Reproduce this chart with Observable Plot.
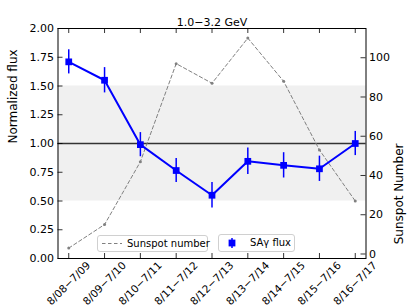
<!DOCTYPE html>
<html><head><meta charset="utf-8">
<script src="https://cdn.jsdelivr.net/npm/d3@7"></script>
<script src="https://cdn.jsdelivr.net/npm/@observablehq/plot@0.6"></script>
<style>
body{margin:0;background:#fff;font-family:"DejaVu Sans",sans-serif;}
#wrap{position:relative;width:411px;height:308px;}
.lg{position:absolute;border:1px solid #d0d0d0;border-radius:3px;background:rgba(255,255,255,0.85);font-size:10px;color:#000;box-sizing:border-box;}
</style></head>
<body><div id="wrap"></div>
<script>
const periods = ["8/08\u22127/09","8/09\u22127/10","8/10\u22127/11","8/11\u22127/12","8/12\u22127/13","8/13\u22127/14","8/14\u22127/15","8/15\u22127/16","8/16\u22127/17"];
const flux = [1.71, 1.55, 0.99, 0.765, 0.55, 0.845, 0.81, 0.78, 1.00];
const fluxErr = [0.105, 0.11, 0.105, 0.105, 0.11, 0.115, 0.11, 0.11, 0.105];
const sunspot = [3, 15, 47, 97, 87, 110, 88, 53, 27];
const fluxTicks = [0, 0.25, 0.5, 0.75, 1.0, 1.25, 1.5, 1.75, 2.0];
const sunTicks = [0, 20, 40, 60, 80, 100];
const band = [0.5, 1.5];
const refLevel = [1.0];
const xDom = [-0.3, 8.3];
const sunDom = [-2.3, 114.9];

const idx = periods.map((_, i) => i);
const s2f = d3.scaleLinear().domain(sunDom).range([0, 2]);
const fluxData = idx.map(i => ({x: i, y: flux[i], lo: flux[i] - fluxErr[i], hi: flux[i] + fluxErr[i]}));
const sunData = idx.map(i => ({x: i, y: s2f(sunspot[i])}));
const tk = 5 / 115, tkx = 5 / 35.85;

const plot = Plot.plot({
  width: 411, height: 308,
  marginLeft: 57.5, marginRight: 45.5, marginTop: 28, marginBottom: 50,
  style: {fontFamily: "DejaVu Sans", fontSize: "11px", background: "white", overflow: "visible"},
  x: {domain: xDom, axis: null},
  y: {domain: [0, 2], axis: null},
  marks: [
    Plot.rect([band], {x1: xDom[0], x2: xDom[1], y1: d => d[0], y2: d => d[1], fill: "#f0f0f0"}),
    Plot.ruleY(refLevel, {stroke: "#333", strokeWidth: 1.5}),
    Plot.line(sunData, {x: "x", y: "y", stroke: "#808080", strokeWidth: 1, strokeDasharray: "3.5,2.5"}),
    Plot.dot(sunData, {x: "x", y: "y", r: 1.5, fill: "#808080", stroke: null}),
    Plot.ruleX(fluxData, {x: "x", y1: "lo", y2: "hi", stroke: "#0000ff", strokeWidth: 1.5}),
    Plot.line(fluxData, {x: "x", y: "y", stroke: "#0000ff", strokeWidth: 2}),
    Plot.dot(fluxData, {x: "x", y: "y", symbol: "square", r: 3.8, fill: "#0000ff", stroke: null}),
    // inward ticks
    Plot.ruleX(idx, {x: d => d, y1: 0, y2: tk, stroke: "black", strokeWidth: 0.8}),
    Plot.ruleX(idx, {x: d => d, y1: 2, y2: 2 - tk, stroke: "black", strokeWidth: 0.8}),
    Plot.ruleY(fluxTicks, {y: d => d, x1: xDom[0], x2: xDom[0] + tkx, stroke: "black", strokeWidth: 0.8}),
    Plot.ruleY(sunTicks, {y: d => s2f(d), x1: xDom[1], x2: xDom[1] - tkx, stroke: "black", strokeWidth: 0.8}),
    Plot.frame({stroke: "black", strokeWidth: 1}),
    Plot.axisY({ticks: fluxTicks, tickFormat: d => d.toFixed(2), tickSize: 0, tickPadding: 4, label: null, fontSize: 11}),
    Plot.axisY({anchor: "right", ticks: sunTicks.map(s2f), tickFormat: v => Math.round(s2f.invert(v)), tickSize: 0, tickPadding: 3, label: null, fontSize: 11}),
    Plot.text(idx, {x: d => d, y: 0, text: i => periods[i], rotate: -45, textAnchor: "middle", lineAnchor: "middle", dy: 25, fontSize: 10.5, fill: "black"}),
    Plot.text(["1.0\u22123.2 GeV"], {frameAnchor: "top", dy: -10, fontSize: 11, fill: "black"}),
    Plot.text(["Normalized flux"], {frameAnchor: "left", dx: -45, rotate: -90, fontSize: 12, fill: "black"}),
    Plot.text(["Sunspot Number"], {frameAnchor: "right", dx: 33, rotate: -90, fontSize: 12, fill: "black"})
  ]
});
const wrap = document.getElementById("wrap");
wrap.appendChild(plot);

function legendBox(left, top, w, h, sampleHTML, label, textLeft) {
  const b = document.createElement("div");
  b.className = "lg";
  b.style.left = left + "px"; b.style.top = top + "px"; b.style.width = w + "px"; b.style.height = h + "px";
  b.innerHTML = sampleHTML + `<span style="position:absolute;left:${textLeft}px;top:2px;white-space:nowrap;">${label}</span>`;
  wrap.appendChild(b);
}
legendBox(97, 235, 111, 17,
  `<svg width="22" height="15" style="position:absolute;left:3px;top:0px"><line x1="1" y1="7.5" x2="21" y2="7.5" stroke="#808080" stroke-width="1" stroke-dasharray="3.5,2.5"/></svg>`,
  "Sunspot number", 29);
legendBox(218, 234, 77, 18,
  `<svg width="20" height="16" style="position:absolute;left:6px;top:0px"><line x1="7" y1="3" x2="7" y2="13" stroke="#0000ff" stroke-width="1.5"/><rect x="3.6" y="4.6" width="6.8" height="6.8" fill="#0000ff"/></svg>`,
  "SA\u03b3 flux", 31);
</script></body></html>
